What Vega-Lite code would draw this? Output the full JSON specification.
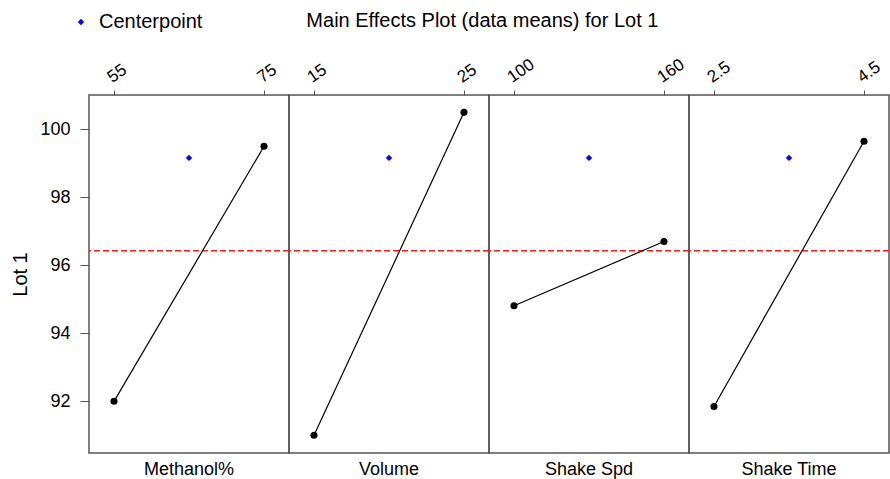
{
  "$schema": "https://vega.github.io/schema/vega-lite/v6.json",
  "padding": {"left": 10, "top": 11, "right": 0, "bottom": 0},
  "bounds": "flush",
  "datasets": {
    "means": [
      {"factor": "Methanol%", "level": 55, "mean": 92.0, "type": "Factorial"},
      {"factor": "Methanol%", "level": 75, "mean": 99.5, "type": "Factorial"},
      {"factor": "Methanol%", "level": 65, "mean": 99.16, "type": "Centerpoint"},
      {"factor": "Volume", "level": 15, "mean": 91.0, "type": "Factorial"},
      {"factor": "Volume", "level": 25, "mean": 100.5, "type": "Factorial"},
      {"factor": "Volume", "level": 20, "mean": 99.16, "type": "Centerpoint"},
      {"factor": "Shake Spd", "level": 100, "mean": 94.81, "type": "Factorial"},
      {"factor": "Shake Spd", "level": 160, "mean": 96.7, "type": "Factorial"},
      {"factor": "Shake Spd", "level": 130, "mean": 99.16, "type": "Centerpoint"},
      {"factor": "Shake Time", "level": 2.5, "mean": 91.85, "type": "Factorial"},
      {"factor": "Shake Time", "level": 4.5, "mean": 99.65, "type": "Factorial"},
      {"factor": "Shake Time", "level": 3.5, "mean": 99.16, "type": "Centerpoint"}
    ],
    "grand": [{"grandMean": 96.43}]
  },
  "title": {"text": "Main Effects Plot (data means) for Lot 1", "fontSize": 20, "fontWeight": "normal", "font": "Liberation Sans", "anchor": "middle", "dx": 32, "color": "black", "offset": -19},
  "config": {
    "font": "Liberation Sans",
    "view": {"stroke": "#555555", "strokeWidth": 1.5},
    "concat": {"spacing": 0},
    "axis": {"grid": false, "domain": false, "tickColor": "#555555", "labelColor": "black", "labelFont": "Liberation Sans", "titleFont": "Liberation Sans", "titleColor": "black", "titleFontWeight": "normal"},
    "legend": {"orient": "none", "legendX": -18, "legendY": -83, "title": null, "labelFontSize": 20, "labelFont": "Liberation Sans", "labelColor": "black", "symbolType": "diamond", "symbolSize": 40, "symbolStrokeWidth": 0, "labelOffset": 8}
  },
  "spacing": 0,
  "hconcat": [
    {
      "width": 200, "height": 358,
      "title": {"text": "Methanol%", "orient": "bottom", "fontSize": 18, "fontWeight": "normal", "color": "black", "offset": 8, "anchor": "middle"},
      "layer": [
        {"data": {"name": "grand"}, "mark": {"type": "rule", "color": "#ff1a1a", "strokeDash": [6, 3], "strokeWidth": 1.5},
         "encoding": {"y": {"field": "grandMean", "type": "quantitative", "scale": {"domain": [90.48, 101.01], "nice": false, "zero": false}, "axis": {"title": "Lot 1", "titleFontSize": 20, "titlePadding": 9, "labelFontSize": 18, "values": [92, 94, 96, 98, 100], "tickSize": 9, "labelPadding": 10}}}},
        {"data": {"name": "means"}, "transform": [{"filter": "datum.factor == 'Methanol%' && datum.type == 'Factorial'"}],
         "mark": {"type": "line", "color": "black", "strokeWidth": 1.2, "point": {"filled": true, "color": "black", "size": 50, "opacity": 1}},
         "encoding": {
           "x": {"field": "level", "type": "quantitative", "scale": {"domain": [51.667, 78.333], "nice": false, "zero": false}, "axis": {"orient": "top", "values": [55, 75], "title": null, "labelAngle": -35, "labelAlign": "left", "labelFontSize": 17, "tickSize": 5, "labelPadding": 4}},
           "y": {"field": "mean", "type": "quantitative"}}},
        {"data": {"name": "means"}, "transform": [{"filter": "datum.factor == 'Methanol%' && datum.type == 'Centerpoint'"}],
         "mark": {"type": "point", "shape": "diamond", "filled": true, "size": 40, "opacity": 1},
         "encoding": {
           "x": {"field": "level", "type": "quantitative"},
           "y": {"field": "mean", "type": "quantitative"},
           "color": {"field": "type", "type": "nominal", "scale": {"domain": ["Centerpoint"], "range": ["#0000ff"]}}}}
      ]
    },
    {
      "width": 200, "height": 358,
      "title": {"text": "Volume", "orient": "bottom", "fontSize": 18, "fontWeight": "normal", "color": "black", "offset": 8, "anchor": "middle"},
      "layer": [
        {"data": {"name": "grand"}, "mark": {"type": "rule", "color": "#ff1a1a", "strokeDash": [6, 3], "strokeWidth": 1.5},
         "encoding": {"y": {"field": "grandMean", "type": "quantitative", "scale": {"domain": [90.48, 101.01], "nice": false, "zero": false}, "axis": null}}},
        {"data": {"name": "means"}, "transform": [{"filter": "datum.factor == 'Volume' && datum.type == 'Factorial'"}],
         "mark": {"type": "line", "color": "black", "strokeWidth": 1.2, "point": {"filled": true, "color": "black", "size": 50, "opacity": 1}},
         "encoding": {
           "x": {"field": "level", "type": "quantitative", "scale": {"domain": [13.333, 26.667], "nice": false, "zero": false}, "axis": {"orient": "top", "values": [15, 25], "title": null, "labelAngle": -35, "labelAlign": "left", "labelFontSize": 17, "tickSize": 5, "labelPadding": 4}},
           "y": {"field": "mean", "type": "quantitative"}}},
        {"data": {"name": "means"}, "transform": [{"filter": "datum.factor == 'Volume' && datum.type == 'Centerpoint'"}],
         "mark": {"type": "point", "shape": "diamond", "filled": true, "size": 40, "opacity": 1},
         "encoding": {
           "x": {"field": "level", "type": "quantitative"},
           "y": {"field": "mean", "type": "quantitative"},
           "color": {"field": "type", "type": "nominal", "scale": {"domain": ["Centerpoint"], "range": ["#0000ff"]}}}}
      ]
    },
    {
      "width": 200, "height": 358,
      "title": {"text": "Shake Spd", "orient": "bottom", "fontSize": 18, "fontWeight": "normal", "color": "black", "offset": 8, "anchor": "middle"},
      "layer": [
        {"data": {"name": "grand"}, "mark": {"type": "rule", "color": "#ff1a1a", "strokeDash": [6, 3], "strokeWidth": 1.5},
         "encoding": {"y": {"field": "grandMean", "type": "quantitative", "scale": {"domain": [90.48, 101.01], "nice": false, "zero": false}, "axis": null}}},
        {"data": {"name": "means"}, "transform": [{"filter": "datum.factor == 'Shake Spd' && datum.type == 'Factorial'"}],
         "mark": {"type": "line", "color": "black", "strokeWidth": 1.2, "point": {"filled": true, "color": "black", "size": 50, "opacity": 1}},
         "encoding": {
           "x": {"field": "level", "type": "quantitative", "scale": {"domain": [90, 170], "nice": false, "zero": false}, "axis": {"orient": "top", "values": [100, 160], "title": null, "labelAngle": -35, "labelAlign": "left", "labelFontSize": 17, "tickSize": 5, "labelPadding": 4}},
           "y": {"field": "mean", "type": "quantitative"}}},
        {"data": {"name": "means"}, "transform": [{"filter": "datum.factor == 'Shake Spd' && datum.type == 'Centerpoint'"}],
         "mark": {"type": "point", "shape": "diamond", "filled": true, "size": 40, "opacity": 1},
         "encoding": {
           "x": {"field": "level", "type": "quantitative"},
           "y": {"field": "mean", "type": "quantitative"},
           "color": {"field": "type", "type": "nominal", "scale": {"domain": ["Centerpoint"], "range": ["#0000ff"]}}}}
      ]
    },
    {
      "width": 200, "height": 358,
      "title": {"text": "Shake Time", "orient": "bottom", "fontSize": 18, "fontWeight": "normal", "color": "black", "offset": 8, "anchor": "middle"},
      "layer": [
        {"data": {"name": "grand"}, "mark": {"type": "rule", "color": "#ff1a1a", "strokeDash": [6, 3], "strokeWidth": 1.5},
         "encoding": {"y": {"field": "grandMean", "type": "quantitative", "scale": {"domain": [90.48, 101.01], "nice": false, "zero": false}, "axis": null}}},
        {"data": {"name": "means"}, "transform": [{"filter": "datum.factor == 'Shake Time' && datum.type == 'Factorial'"}],
         "mark": {"type": "line", "color": "black", "strokeWidth": 1.2, "point": {"filled": true, "color": "black", "size": 50, "opacity": 1}},
         "encoding": {
           "x": {"field": "level", "type": "quantitative", "scale": {"domain": [2.1667, 4.8333], "nice": false, "zero": false}, "axis": {"orient": "top", "values": [2.5, 4.5], "title": null, "labelAngle": -35, "labelAlign": "left", "labelFontSize": 17, "tickSize": 5, "labelPadding": 4}},
           "y": {"field": "mean", "type": "quantitative"}}},
        {"data": {"name": "means"}, "transform": [{"filter": "datum.factor == 'Shake Time' && datum.type == 'Centerpoint'"}],
         "mark": {"type": "point", "shape": "diamond", "filled": true, "size": 40, "opacity": 1},
         "encoding": {
           "x": {"field": "level", "type": "quantitative"},
           "y": {"field": "mean", "type": "quantitative"},
           "color": {"field": "type", "type": "nominal", "scale": {"domain": ["Centerpoint"], "range": ["#0000ff"]}}}}
      ]
    }
  ]
}
